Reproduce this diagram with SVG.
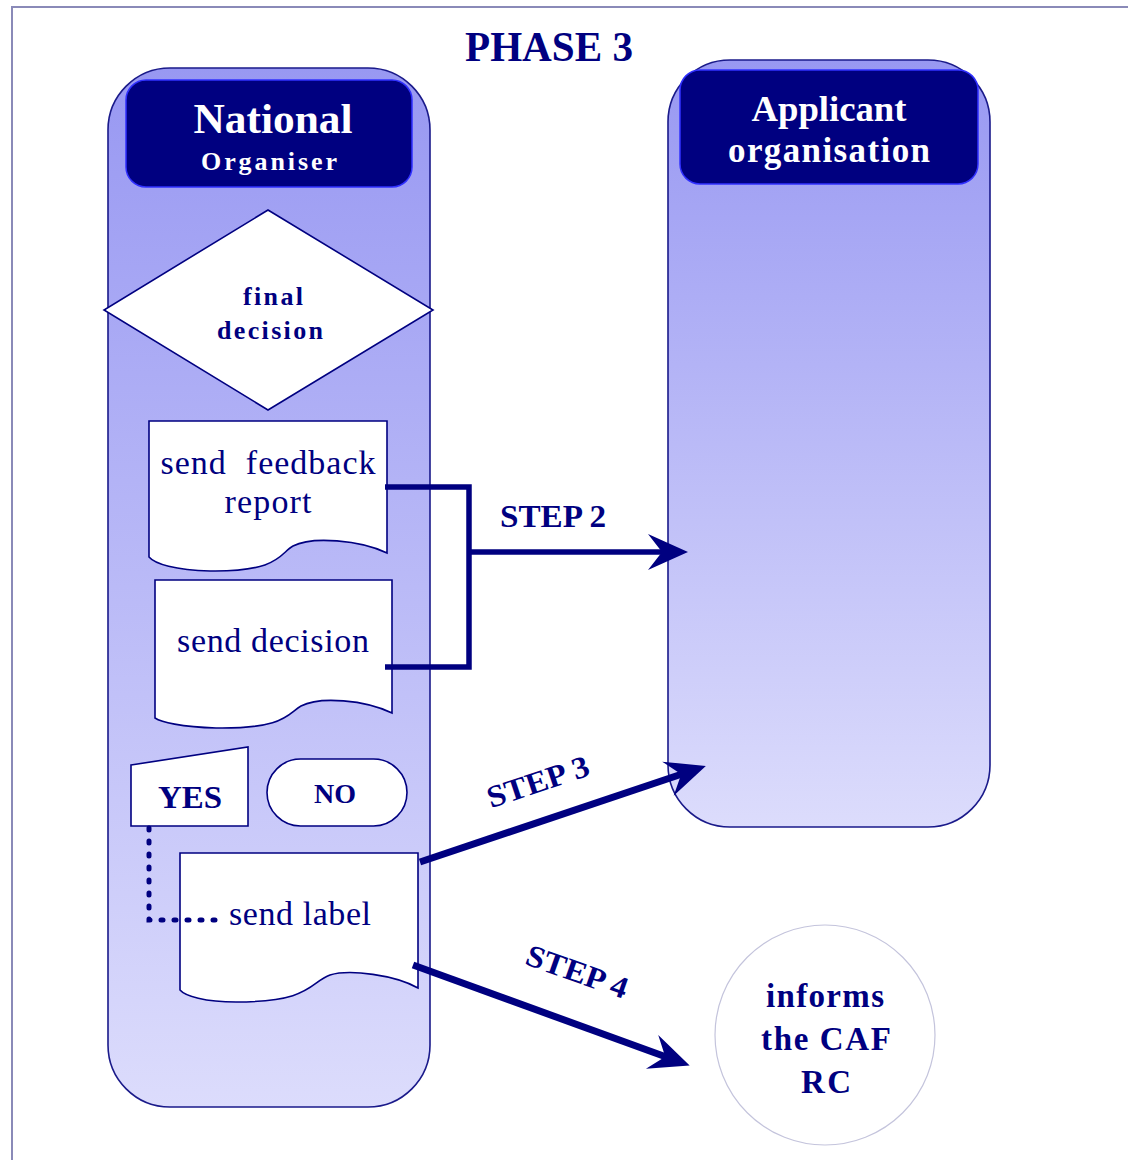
<svg xmlns="http://www.w3.org/2000/svg" width="1128" height="1160" viewBox="0 0 1128 1160">
<style>
.frame{fill:none;stroke:#8a8ab8;stroke-width:2}
.lane{fill:url(#laneGrad);stroke:#1a1a8a;stroke-width:1.6}
.hdr{fill:#000080;stroke:#3030ff;stroke-width:1.5}
.shape{fill:#ffffff;stroke:#000080;stroke-width:1.6}
.circ{fill:#ffffff;stroke:#c4c4dc;stroke-width:1.2}
.conn{fill:none;stroke:#000080;stroke-width:5.5}
.thick{stroke-width:7}
.dots{fill:none;stroke:#000080;stroke-width:5;stroke-linecap:round;stroke-dasharray:2 11}
.serif{font-family:"Liberation Serif","Times New Roman",serif}
.b{font-weight:bold}
.hw{fill:#ffffff}
.nv{fill:#000080}
</style>
<defs>
<linearGradient id="laneGrad" x1="0" y1="0" x2="0" y2="1">
<stop offset="0" stop-color="#9898f2"/>
<stop offset="1" stop-color="#dcdcfc"/>
</linearGradient>
<marker id="arr" viewBox="-44 -22 48 44" markerUnits="userSpaceOnUse" markerWidth="48" markerHeight="44" refX="-22" refY="0" orient="auto">
<path d="M0,0 L-40,-18 L-26,0 L-40,18 Z" fill="#000080"/>
</marker>
</defs>
<rect width="1128" height="1160" fill="#ffffff"/>
<path class="frame" d="M12,1160 V7 H1128"/>
<text class="serif b nv" x="549" y="61" font-size="42" text-anchor="middle" textLength="168" lengthAdjust="spacingAndGlyphs">PHASE 3</text>

<g id="lane-national">
<rect class="lane" x="108" y="68" width="322" height="1039" rx="62" ry="62"/>
<rect class="hdr" x="126" y="80" width="286" height="107" rx="20" ry="20"/>
<text class="serif b hw" x="273" y="133" font-size="43" text-anchor="middle" textLength="159" lengthAdjust="spacingAndGlyphs">National</text>
<text class="serif b hw" x="269" y="170" font-size="26" text-anchor="middle" textLength="136" lengthAdjust="spacing">Organiser</text>
</g>

<g id="lane-applicant">
<rect class="lane" x="668" y="60" width="322" height="767" rx="62" ry="62"/>
<rect class="hdr" x="680" y="70" width="298" height="114" rx="20" ry="20"/>
<text class="serif b hw" x="829" y="121" font-size="35" text-anchor="middle" textLength="155" lengthAdjust="spacingAndGlyphs">Applicant</text>
<text class="serif b hw" x="829" y="162" font-size="35" text-anchor="middle" textLength="202" lengthAdjust="spacing">organisation</text>
</g>

<g id="final-decision">
<polygon class="shape" points="268,210 433,310 268,410 104,310"/>
<text class="serif b nv" x="273" y="305" font-size="26" text-anchor="middle" textLength="60" lengthAdjust="spacing">final</text>
<text class="serif b nv" x="270" y="339" font-size="26" text-anchor="middle" textLength="106" lengthAdjust="spacing">decision</text>
</g>

<g id="send-feedback-report">
<path class="shape" d="M149,421 H387 V553 C360,540 312,536 293,546 C280,553 280,572 210,571 C175,570 155,564 149,557 Z"/>
<text class="serif nv" x="268" y="474" font-size="34" text-anchor="middle" textLength="215" lengthAdjust="spacing" xml:space="preserve">send  feedback</text>
<text class="serif nv" x="268" y="513" font-size="34" text-anchor="middle" textLength="87" lengthAdjust="spacing">report</text>
</g>

<g id="send-decision">
<path class="shape" d="M155,580 H392 V713 C365,700 320,696 301,706 C288,713 286,729 216,728 C181,727 161,722 155,718 Z"/>
<text class="serif nv" x="273" y="652" font-size="34" text-anchor="middle" textLength="192" lengthAdjust="spacing">send decision</text>
</g>

<g id="yes">
<polygon class="shape" points="131,765 248,747 248,826 131,826"/>
<text class="serif b nv" x="190" y="808" font-size="31" text-anchor="middle" textLength="64" lengthAdjust="spacingAndGlyphs">YES</text>
</g>

<g id="no">
<rect class="shape" x="267" y="759" width="140" height="67" rx="33.5" ry="33.5"/>
<text class="serif b nv" x="335" y="803" font-size="27" text-anchor="middle" textLength="42" lengthAdjust="spacingAndGlyphs">NO</text>
</g>

<g id="send-label">
<path class="shape" d="M180,853 H418 V988 C395,975 350,969 330,975 C310,982 312,1002 236,1002 C205,1002 185,996 180,990 Z"/>
<text class="serif nv" x="300" y="925" font-size="34" text-anchor="middle" textLength="142" lengthAdjust="spacing">send label</text>
</g>

<g id="informs-caf-rc">
<circle class="circ" cx="825" cy="1035" r="110"/>
<text class="serif b nv" x="825" y="1007" font-size="33" text-anchor="middle" textLength="118" lengthAdjust="spacing">informs</text>
<text class="serif b nv" x="826" y="1050" font-size="33" text-anchor="middle" textLength="130" lengthAdjust="spacing">the CAF</text>
<text class="serif b nv" x="826" y="1093" font-size="33" text-anchor="middle" textLength="50" lengthAdjust="spacing">RC</text>
</g>

<g id="connectors">
<path class="conn" d="M385,487 H469 V667 H385"/>
<path class="conn" d="M469,552 H666" marker-end="url(#arr)"/>
<path class="conn thick" d="M420,862 L685,773" marker-end="url(#arr)"/>
<path class="conn thick" d="M413,965 L669,1058" marker-end="url(#arr)"/>
<path class="dots" d="M149,828 V920 H220"/>
<text class="serif b nv" x="553" y="527" font-size="31" text-anchor="middle" textLength="106" lengthAdjust="spacingAndGlyphs">STEP 2</text>
<text class="serif b nv" transform="translate(538,782) rotate(-18.5)" x="0" y="10" font-size="31" text-anchor="middle" textLength="106" lengthAdjust="spacingAndGlyphs">STEP 3</text>
<text class="serif b nv" transform="translate(577,972) rotate(19.5)" x="0" y="10" font-size="31" text-anchor="middle" textLength="106" lengthAdjust="spacingAndGlyphs">STEP 4</text>
</g>
</svg>
